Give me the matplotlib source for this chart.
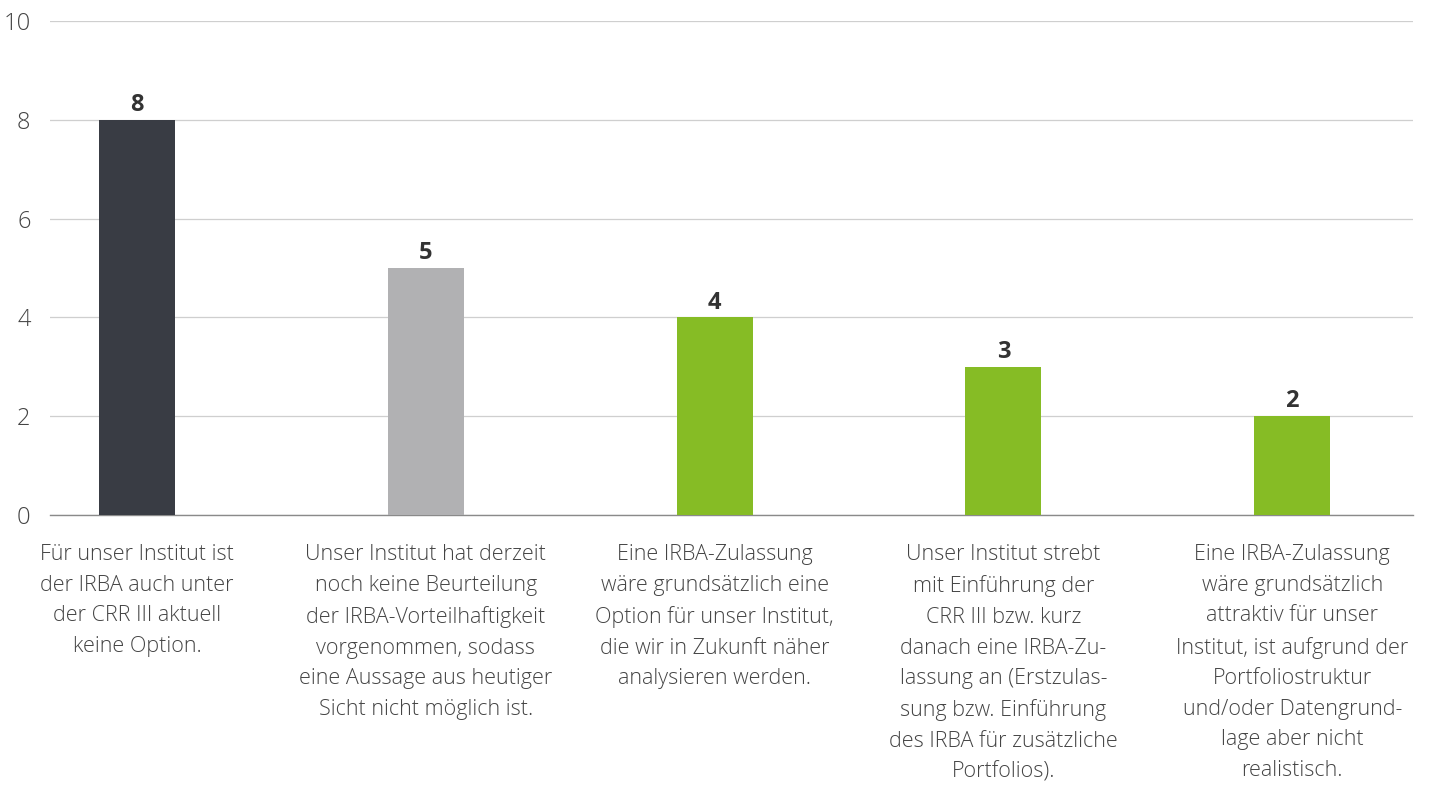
import matplotlib
matplotlib.use("Agg")
import matplotlib.pyplot as plt

# ── Data ───────────────────────────────────────────────────
CATEGORIES = [
    "Für unser Institut ist\nder IRBA auch unter\nder CRR III aktuell\nkeine Option.",
    "Unser Institut hat derzeit\nnoch keine Beurteilung\nder IRBA-Vorteilhaftigkeit\nvorgenommen, sodass\neine Aussage aus heutiger\nSicht nicht möglich ist.",
    "Eine IRBA-Zulassung\nwäre grundsätzlich eine\nOption für unser Institut,\ndie wir in Zukunft näher\nanalysieren werden.",
    "Unser Institut strebt\nmit Einführung der\nCRR III bzw. kurz\ndanach eine IRBA-Zu-\nlassung an (Erstzulas-\nsung bzw. Einführung\ndes IRBA für zusätzliche\nPortfolios).",
    "Eine IRBA-Zulassung\nwäre grundsätzlich\nattraktiv für unser\nInstitut, ist aufgrund der\nPortfoliostruktur\nund/oder Datengrund-\nlage aber nicht\nrealistisch.",
]
VALUES = [8, 5, 4, 3, 2]
COLORS = ["#393c44", "#b1b1b3", "#86bc25", "#86bc25", "#86bc25"]
Y_TICKS = [0, 2, 4, 6, 8, 10]

plt.rcParams['font.family'] = ['Open Sans', 'DejaVu Sans']

fig = plt.figure(figsize=(14.29, 7.87), dpi=100)
ax = fig.add_axes([0.035, 0.3456, 0.954, 0.6277])

x = list(range(len(VALUES)))
bars = ax.bar(x, VALUES, width=0.263, color=COLORS, zorder=3)

for xi, v in zip(x, VALUES):
    ax.annotate(str(v), (xi, v), xytext=(0, 2), textcoords='offset points',
                ha='center', va='bottom', fontsize=17, fontweight='bold',
                color='#333333')

ax.set_xlim(-0.301, 4.419)
ax.set_ylim(0, 10)
ax.set_yticks(Y_TICKS)
ax.set_yticklabels([str(t) for t in Y_TICKS], fontsize=17,
                   color='#444444', fontweight='light')
ax.set_xticks(x)
ax.set_xticklabels(CATEGORIES, fontsize=15.5, color='#444444',
                   fontweight='light', linespacing=1.6)
ax.tick_params(axis='both', length=0)
ax.tick_params(axis='y', pad=14)
ax.tick_params(axis='x', pad=21)

ax.grid(axis='y', color='#cfcfcf', linewidth=0.9, zorder=0)
for s in ['top', 'right', 'left']:
    ax.spines[s].set_visible(False)
ax.spines['bottom'].set_color('#8a8a8a')
ax.spines['bottom'].set_linewidth(1.0)

fig.savefig("out.png", dpi=100, facecolor='white')
